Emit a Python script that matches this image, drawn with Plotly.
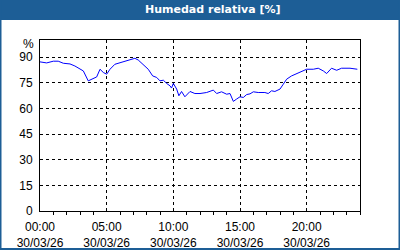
import plotly.graph_objects as go

DAY = "2026-03-30"
times = ["00:00", "00:30", "01:00", "01:22", "01:45", "02:15", "02:37", "03:00", "03:15", "03:37",
         "03:52", "04:15", "04:30", "04:45", "05:00", "05:15", "05:37", "06:00", "06:22", "06:52",
         "07:07", "07:22", "07:45", "08:07", "08:27", "08:45", "09:00", "09:15", "09:30", "09:45",
         "09:52", "10:00", "10:15", "10:25", "10:37", "10:52", "11:15", "11:37", "12:00", "12:30",
         "13:00", "13:15", "13:37", "14:00", "14:15", "14:30", "14:45", "15:00", "15:15", "15:30",
         "15:45", "16:00", "16:22", "16:52", "17:07", "17:22", "17:37", "18:00", "18:15", "18:30",
         "18:52", "19:15", "19:37", "20:00", "20:30", "20:52", "21:15", "21:30", "21:52", "22:15",
         "22:37", "23:15", "23:48"]
humidity = [87.2, 86.6, 87.6, 87.6, 86.4, 86.0, 84.8, 82.9, 81.9, 76.1,
            77.1, 78.4, 82.9, 81.0, 80.0, 82.9, 85.8, 86.7, 87.6, 89.1,
            89.3, 88.3, 85.8, 82.9, 79.0, 78.1, 76.1, 76.5, 74.6, 73.2,
            71.9, 74.6, 71.3, 67.4, 69.9, 66.8, 69.9, 68.7, 68.7, 69.3,
            70.7, 68.7, 69.7, 68.3, 68.7, 64.1, 65.5, 66.8, 66.4, 68.1,
            68.5, 69.7, 69.3, 69.3, 68.7, 70.3, 69.9, 71.3, 74.2, 77.1,
            79.0, 80.4, 81.9, 82.9, 82.9, 83.5, 81.9, 80.4, 83.5, 82.3,
            83.5, 83.5, 82.9]
y_ticks = [0, 15, 30, 45, 60, 75, 90]
title = "Humedad relativa [%]"

x = [f"{DAY} {t}:00" for t in times]
BLUE = "#1d5e96"
FONT = "Liberation Sans"

fig = go.Figure()
fig.add_trace(go.Scatter(x=x, y=humidity, mode="lines",
                         line=dict(color="#0000ff", width=1), hoverinfo="skip"))

fig.update_layout(
    width=400, height=250,
    margin=dict(l=40, r=40, t=40, b=39),
    paper_bgcolor="white", plot_bgcolor="white",
    showlegend=False,
    font=dict(family=FONT, size=11, color="#000000"),
    xaxis=dict(
        type="date", automargin=False,
        range=[f"{DAY} 00:00:00", "2026-03-31 00:00:00"],
        dtick=5 * 3600000, tick0=f"{DAY} 00:00:00",
        tickformat="%H:%M<br>%d/%m/%y",
        showline=True, linecolor="black", linewidth=1, mirror=True,
        showgrid=True, gridcolor="black", gridwidth=1, griddash="3px,3px",
        ticks="", zeroline=False, ticklabelstandoff=5,
        minor=dict(dtick=3600000, ticks="outside", ticklen=3, tickcolor="black", showgrid=False),
        tickfont=dict(family=FONT, size=12, color="#000000"),
    ),
    yaxis=dict(
        range=[0, 100], tickvals=y_ticks, automargin=False,
        showline=True, linecolor="black", linewidth=1, mirror=True,
        showgrid=True, gridcolor="black", gridwidth=1, griddash="3px,3px",
        ticks="", zeroline=False, ticklabelstandoff=4,
        tickfont=dict(family=FONT, size=12, color="#000000"),
    ),
    shapes=[
        dict(type="rect", xref="paper", yref="paper", x0=-0.2, x1=1.2,
             y0=1 + 20 / 171, y1=1 + 40 / 171, fillcolor=BLUE, line=dict(width=0), layer="below"),
        dict(type="rect", xref="paper", yref="paper", x0=-40 / 320 + 0.5 / 320, x1=1 + 40 / 320 - 0.5 / 320,
             y0=-39 / 171 + 1 / 171, y1=1 + 40 / 171, fillcolor="rgba(0,0,0,0)",
             line=dict(color=BLUE, width=2), layer="below"),
    ],
    annotations=[
        dict(text=f"<b>{title}</b>", xref="paper", yref="paper", x=(213 - 40) / 320,
             y=1 + 30 / 171, xanchor="center", yanchor="middle", showarrow=False,
             font=dict(family="DejaVu Sans", size=11, color="white")),
        dict(text="%", xref="paper", yref="paper", x=-4 / 320, y=1 - 4 / 171,
             xanchor="right", yanchor="middle", showarrow=False,
             font=dict(family=FONT, size=12, color="black")),
    ],
)

fig.write_html("out.html")
